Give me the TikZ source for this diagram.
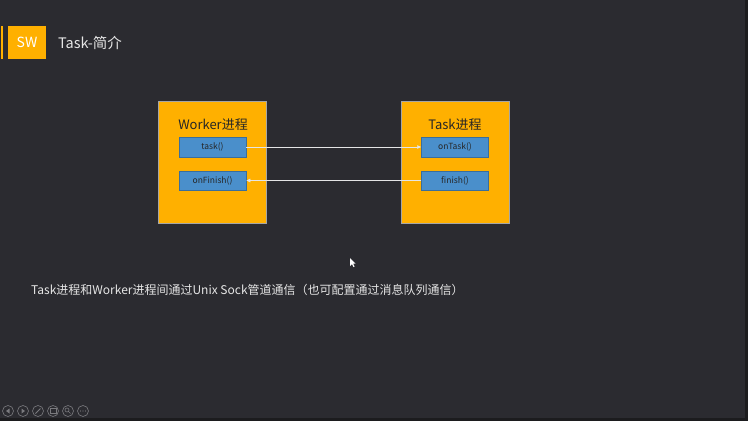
\documentclass[tikz,border=0pt]{standalone}
\usepackage{fontspec}
\setmainfont{Noto Sans CJK SC}
\usepackage{xcolor}
\usepackage{tikz}
\usetikzlibrary{positioning,arrows.meta}

\definecolor{slidebg}{HTML}{2B2B30}
\definecolor{slideedge}{HTML}{1C1C1E}
\definecolor{procorange}{HTML}{FFB000}
\definecolor{fnblue}{HTML}{4A8FCB}
\definecolor{fnedge}{HTML}{3A6E9C}
\definecolor{titlegray}{HTML}{E6E6E6}
\definecolor{icongray}{HTML}{7A7A7E}

\begin{document}
\begin{tikzpicture}[x=1pt,y=-1pt,
	procbox/.style={fill=procorange, draw=gray!70, line width=0.5pt, minimum width=108pt, minimum height=122pt, inner sep=0pt},
	fnbox/.style={fill=fnblue, draw=fnedge, line width=0.5pt, minimum width=67pt, minimum height=19.5pt, inner sep=0pt, font=\fontsize{8.5}{9}\selectfont, text=black!85},
	proctitle/.style={font=\fontsize{13}{14}\selectfont, text=black!85},
	link/.style={draw=white!90!black, line width=0.5pt, -{Latex[length=4pt,width=4pt]}},
	navbtn/.style={draw=icongray, line width=0.6pt}]
	% slide background and frame
	\fill[slideedge] (0,0) rectangle (748,421);
	\fill[slidebg] (0,0) rectangle (745,418);

	% header
	\fill[procorange] (1,26) rectangle (3,59);
	\node[fill=procorange, minimum width=38pt, minimum height=33pt, inner sep=0pt, text=white, font=\fontsize{14}{15}\selectfont] (logo) at (27,42.5) {SW};
	\node[anchor=west, text=titlegray, font=\fontsize{14.5}{16}\selectfont, inner sep=0pt] (title) at (58,43) {Task-简介};

	% processes
	\node[procbox] (worker) at (212.5,162) {};
	\node[procbox] (taskproc) at (455,162) {};
	\node[proctitle] (workertitle) at (213,125) {Worker进程};
	\node[proctitle] (tasktitle) at (455,125) {Task进程};

	\node[fnbox] (taskfn) at (212.5,147) {task()};
	\node[fnbox] (onfinish) at (212.5,180.5) {onFinish()};
	\node[fnbox] (ontask) at (455,147) {onTask()};
	\node[fnbox] (finishfn) at (455,180.5) {finish()};

	\draw[link] (taskfn) -- (ontask);
	\draw[link] (finishfn) -- (onfinish);

	% mouse pointer
	\fill[white] (350,258) -- (350,266) -- (352,264) -- (353.5,267) -- (354.5,266.5) -- (353,263.5) -- (355.5,263.5) -- cycle;

	\node[anchor=west, text=titlegray, font=\fontsize{12}{14}\selectfont, inner sep=0pt] (note) at (31,290) {Task进程和Worker进程间通过Unix Sock管道通信（也可配置通过消息队列通信）};

	% navigation buttons
	\foreach \cx in {8,23,38,53,68,83}
		\draw[navbtn] (\cx,411) circle (5.5pt);
	\fill[icongray] (9.5,408.5) -- (6,411) -- (9.5,413.5) -- cycle;
	\fill[icongray] (21.5,408.5) -- (25,411) -- (21.5,413.5) -- cycle;
	\draw[icongray, line width=1pt] (35.5,413.5) -- (40.5,408.5);
	\draw[icongray, line width=0.6pt] (50,408.5) rectangle (56,413);
	\draw[icongray, line width=0.6pt] (67,410) circle (2pt) (68.5,411.5) -- (70.5,413.5);
	\foreach \dx in {-2.5,0,2.5}
		\fill[icongray] (83+\dx,411) circle (0.7pt);
\end{tikzpicture}
\end{document}
